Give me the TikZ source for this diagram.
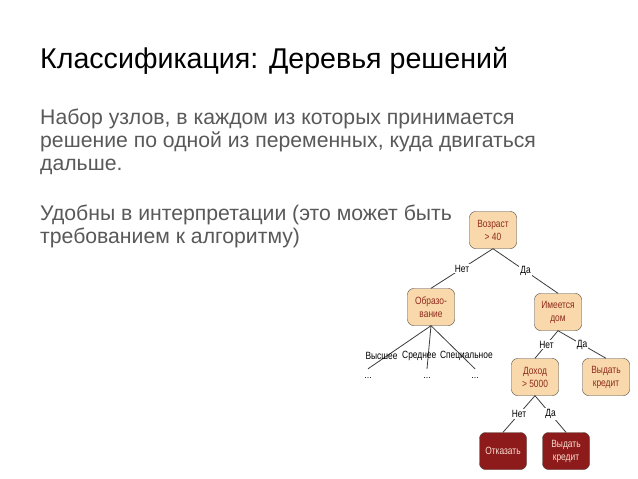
\documentclass[tikz,border=0pt]{standalone}
\usepackage{fontspec}
\setmainfont{Liberation Sans}
\newfontfamily\treefont[FakeStretch=0.8]{Liberation Sans}
\usetikzlibrary{positioning}
\definecolor{bodygray}{HTML}{595959}
\definecolor{nodebeige}{HTML}{F9D9AB}
\definecolor{nodeedge}{HTML}{4A4038}
\definecolor{nodetext}{HTML}{8E2A1C}
\definecolor{leafred}{HTML}{8E1B1B}
\definecolor{leaftext}{HTML}{F8DCD0}
\definecolor{edgegray}{HTML}{3C3C3C}
\tikzset{
  ttl/.style={anchor=base west,inner sep=0pt,font=\fontsize{28.6}{34}\selectfont},
  txt/.style={anchor=base west,inner sep=0pt,align=left,text=bodygray,font=\fontsize{21.2}{23}\selectfont},
  qnode/.style={draw=nodeedge,fill=nodebeige,rounded corners=6pt,minimum width=47pt,minimum height=37pt,inner sep=1pt,align=center,text=nodetext,font=\treefont\fontsize{10.5}{13}\selectfont},
  leaf/.style={qnode,fill=leafred,text=leaftext},
  edge/.style={draw=edgegray,line width=0.8pt},
  lbl/.style={fill=white,inner sep=1pt,font=\treefont\fontsize{10.5}{12}\selectfont},
  brlbl/.style={inner sep=0pt,font=\treefont\fontsize{10.5}{12}\selectfont},
  dots/.style={minimum height=18pt,inner sep=0pt,font=\fontsize{9}{10}\selectfont}
}
\begin{document}
\begin{tikzpicture}[x=1pt,y=-1pt]
  \useasboundingbox[fill=white] (0,0) rectangle (638,479);

  % slide text (base = last line)
  \node[ttl] (title) at (40,68) {Классификация: Деревья решений};
  \node[txt] (para1) at (40,170) {Набор узлов, в каждом из которых принимается\\решение по одной из переменных, куда двигаться\\дальше.};
  \node[txt] (para2) at (40,243) {Удобны в интерпретации (это может быть\\требованием к алгоритму)};

  % tree
  \node[qnode] (age) at (493,230) {Возраст\\> 40};
  \node[qnode] (edu) at (431,307) {Образо-\\вание};
  \node[qnode] (home) at (558,312) {Имеется\\дом};
  \node[qnode] (income) at (535,377) {Доход\\> 5000};
  \node[qnode] (credit1) at (606,377) {Выдать\\кредит};
  \node[leaf] (refuse) at (503,451) {Отказать};
  \node[leaf] (credit2) at (566,451) {Выдать\\кредит};
  \node[dots] (dots1) at (368,378) {...};
  \node[dots] (dots2) at (427,378) {...};
  \node[dots] (dots3) at (475,378) {...};

  \draw[edge] (age.south) -- (edu.north) node[lbl,midway]{Нет};
  \draw[edge] (age.south) -- (home.north) node[lbl,midway]{Да};
  \draw[edge] (edu.south) -- (dots1.north) node[brlbl,pos=0.69,xshift=-6pt]{Высшее};
  \draw[edge] (edu.south) -- (dots2.north) node[brlbl,pos=0.69,xshift=-9pt]{Среднее};
  \draw[edge] (edu.south) -- (dots3.north) node[brlbl,pos=0.69,xshift=5pt]{Специальное};
  \draw[edge] (home.south) -- (income.north) node[lbl,midway]{Нет};
  \draw[edge] (home.south) -- (credit1.north) node[lbl,midway]{Да};
  \draw[edge] (income.south) -- (refuse.north) node[lbl,midway]{Нет};
  \draw[edge] (income.south) -- (credit2.north) node[lbl,midway]{Да};
\end{tikzpicture}
\end{document}
